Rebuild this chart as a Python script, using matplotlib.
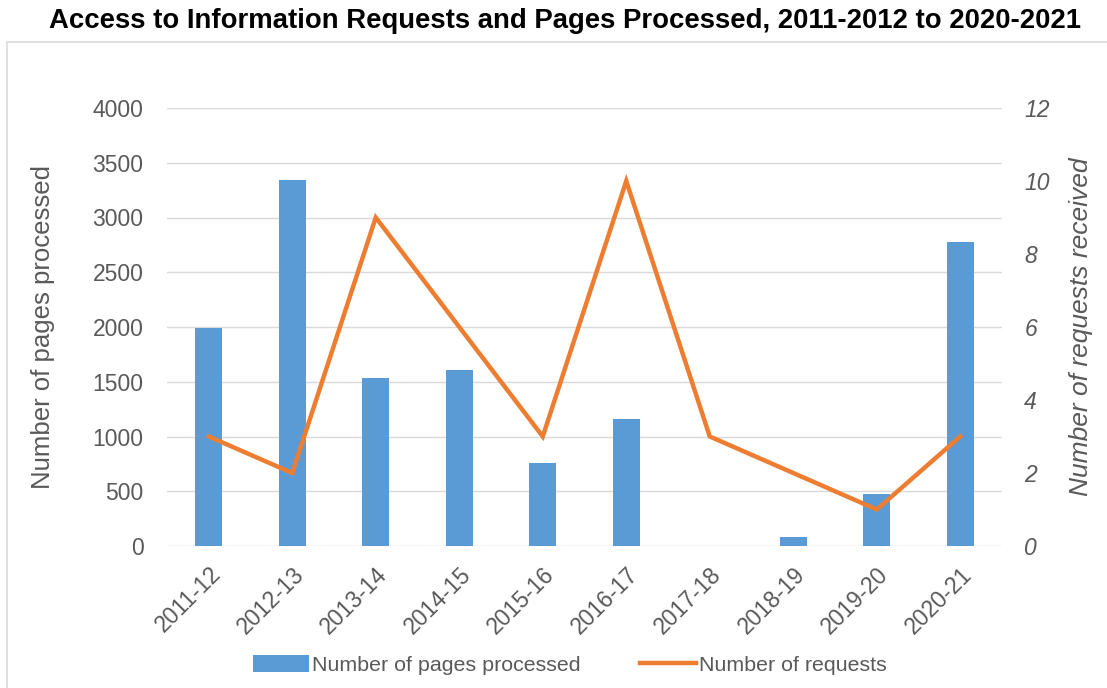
import matplotlib
matplotlib.use("Agg")
import matplotlib.pyplot as plt
from matplotlib.patches import Rectangle
import numpy as np

years = ["2011-12", "2012-13", "2013-14", "2014-15", "2015-16",
         "2016-17", "2017-18", "2018-19", "2019-20", "2020-21"]
pages = [1990, 3340, 1535, 1605, 760, 1160, 0, 82, 478, 2775]
requests = [3, 2, 9, 6, 3, 10, 3, 2, 1, 3]

plt.rcParams['font.family'] = ['Liberation Sans', 'DejaVu Sans']
grey = "#595959"
blue = "#5B9BD5"
orange = "#ED7D31"

fig = plt.figure(figsize=(11.07, 6.88), dpi=100)
ax = fig.add_axes([167/1107, 1-546/688, (1002-167)/1107, (546-108)/688])
x = np.arange(len(years))
ax.bar(x, pages, width=0.32, color=blue, zorder=2, label="Number of pages processed")
ax.set_xlim(-0.5, len(years)-0.5)
ax.set_ylim(0, 4000)
ax.set_yticks(np.arange(0, 4001, 500))
ax.grid(axis='y', color="#D9D9D9", linewidth=1, zorder=0)
ax.set_axisbelow(True)
for s in ax.spines.values():
    s.set_visible(False)
ax.tick_params(axis='y', length=0, labelsize=16.5, colors=grey, pad=17)
ax.tick_params(axis='x', length=0, labelsize=16.5, colors=grey, pad=12)
ax.set_xticks(x)
ax.set_xticklabels(years, rotation=45, ha='right', rotation_mode='anchor')
ax.set_ylabel("Number of pages processed", fontsize=18.5, color=grey, labelpad=27)

ax2 = ax.twinx()
ax2.plot(x, requests, color=orange, linewidth=3.2, solid_joinstyle='miter', zorder=3,
         label="Number of requests")
ax2.set_ylim(0, 12)
ax2.set_yticks(np.arange(0, 13, 2))
for s in ax2.spines.values():
    s.set_visible(False)
ax2.tick_params(axis='y', length=0, labelsize=16.5, colors=grey, pad=16)
for t in ax2.get_yticklabels():
    t.set_fontstyle('italic')
ax2.set_ylabel("Number of requests received", fontsize=19, color=grey,
               fontstyle='italic', labelpad=14)

h1, l1 = ax.get_legend_handles_labels()
h2, l2 = ax2.get_legend_handles_labels()
leg = fig.legend(h1 + h2, l1 + l2, loc='center', bbox_to_anchor=(570/1107, 1-665/688),
                 ncol=2, frameon=False, fontsize=15.4, handlelength=2.6, handleheight=0.8,
                 columnspacing=2.8, handletextpad=0.15)
for t in leg.get_texts():
    t.set_color(grey)

fig.text(565/1107, 1-21/688, "Access to Information Requests and Pages Processed, 2011-2012 to 2020-2021",
         ha='center', va='center', fontsize=19.8, fontweight='bold', color='black')

fig.patches.append(Rectangle((7/1107, -0.1), 1.2, 1-42/688+0.1, transform=fig.transFigure,
                             fill=False, edgecolor="#D9D9D9", linewidth=1.2))

fig.savefig("out.png", dpi=100)
